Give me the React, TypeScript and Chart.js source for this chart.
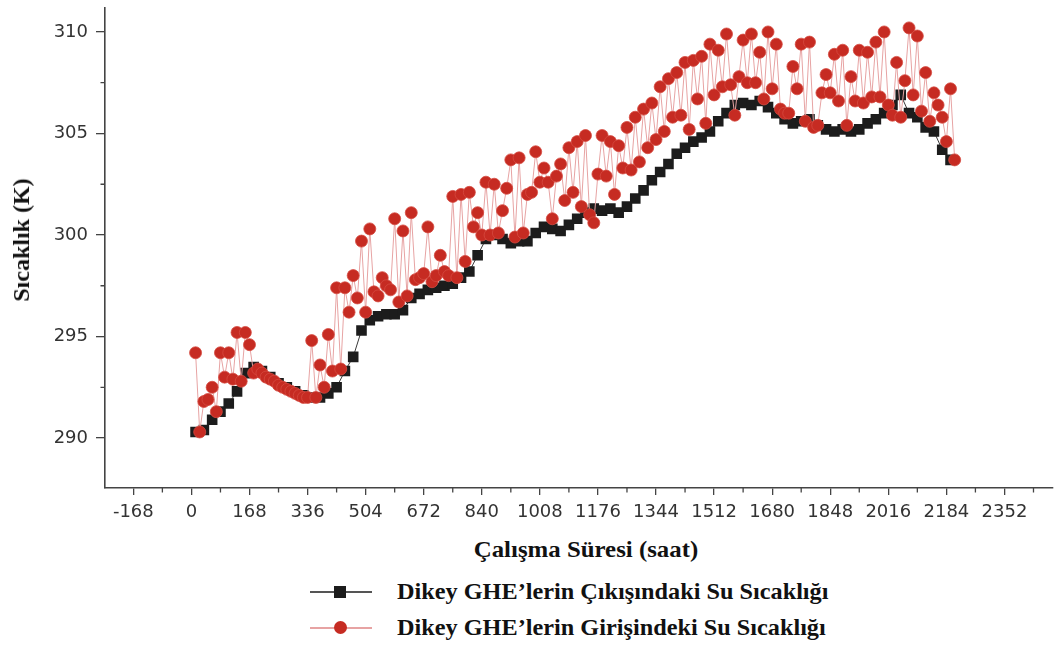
import React, { useEffect, useRef } from "react";
import { Chart, registerables } from "chart.js";

Chart.register(...registerables);

// Sampling grid (hours)
const START_HOUR = 12;
const INLET_STEP = 12;
const OUTLET_STEP = 24;

// Outlet water temperature (K) – black squares
const outletTemps = [
  290.3, 290.4, 290.9, 291.3, 291.7, 292.3, 293.2, 293.5, 293.3, 293.0,
  292.7, 292.5, 292.3, 292.1, 292.0, 292.0, 292.2, 292.5, 293.3, 294.0,
  295.3, 295.8, 296.0, 296.1, 296.1, 296.3, 296.9, 297.1, 297.3, 297.4,
  297.5, 297.6, 297.9, 298.2, 299.0, 299.8, 300.0, 299.8, 299.6, 299.7,
  299.7, 300.1, 300.4, 300.3, 300.2, 300.5, 300.8, 301.1, 301.3, 301.2,
  301.3, 301.1, 301.4, 301.8, 302.2, 302.7, 303.1, 303.5, 304.0, 304.3,
  304.6, 304.8, 305.1, 305.6, 306.0, 306.4, 306.5, 306.4, 306.6, 306.3,
  306.0, 305.7, 305.5, 305.6, 305.7, 305.4, 305.2, 305.1, 305.2, 305.1,
  305.2, 305.5, 305.7, 306.0, 306.4, 306.9, 306.0, 305.8, 305.3, 305.1,
  304.2, 303.7,
];

// Inlet water temperature (K) – red circles
const inletTemps = [
  294.2, 290.3, 291.8, 291.9, 292.5, 291.3, 294.2, 293.0, 294.2, 292.9,
  295.2, 292.8, 295.2, 294.6, 293.2, 293.4, 293.2, 293.0, 292.9, 292.8,
  292.6, 292.5, 292.4, 292.3, 292.2, 292.1, 292.0, 292.0, 294.8, 292.0,
  293.6, 292.5, 295.1, 293.3, 297.4, 293.4, 297.4, 296.2, 298.0, 296.9,
  299.7, 296.2, 300.3, 297.2, 297.0, 297.9, 297.5, 297.3, 300.8, 296.7,
  300.2, 297.0, 301.1, 297.8, 297.9, 298.1, 300.4, 297.7, 298.0, 299.0,
  298.2, 298.0, 301.9, 297.9, 302.0, 298.7, 302.1, 300.4, 301.1, 300.0,
  302.6, 300.0, 302.5, 300.1, 301.2, 302.3, 303.7, 299.9, 303.8, 300.1,
  302.0, 302.1, 304.1, 302.6, 303.3, 302.6, 300.8, 302.9, 303.5, 301.7,
  304.3, 302.1, 304.6, 301.4, 304.9, 301.0, 300.6, 303.0, 304.9, 302.9,
  304.6, 302.0, 304.4, 303.3, 305.3, 303.2, 305.8, 303.6, 306.2, 304.3,
  306.5, 304.7, 307.3, 305.1, 307.7, 305.8, 308.0, 305.9, 308.5, 305.2,
  308.6, 306.7, 308.8, 305.5, 309.4, 306.9, 309.1, 307.3, 309.9, 307.4,
  305.9, 307.8, 309.6, 307.5, 309.9, 307.5, 309.0, 306.7, 310.0, 307.2,
  309.4, 306.2, 306.0, 306.0, 308.3, 307.2, 309.4, 305.6, 309.5, 305.3,
  305.4, 307.0, 307.9, 307.0, 308.9, 306.6, 309.1, 305.4, 307.8, 306.6,
  309.1, 306.5, 309.0, 306.8, 309.5, 306.8, 310.0, 306.4, 305.9, 308.5,
  305.8, 307.6, 310.2, 306.9, 309.8, 306.1, 308.0, 305.6, 307.0, 306.4,
  305.8, 304.6, 307.2, 303.7,
];

const outletHours = outletTemps.map((_, i) => START_HOUR + OUTLET_STEP * i);
const inletHours = inletTemps.map((_, i) => START_HOUR + INLET_STEP * i);

const xTickValues = [-168, 0, 168, 336, 504, 672, 840, 1008, 1176, 1344, 1512, 1680, 1848, 2016, 2184, 2352];
const yTickValues = [290, 295, 300, 305, 310];

const X_MIN = -250;
const X_MAX = 2491;
const Y_MIN = 287.54;
const Y_MAX = 311.18;

const xTitle = "Çalışma Süresi (saat)";
const yTitle = "Sıcaklık (K)";
const outletLabel = "Dikey GHE’lerin Çıkışındaki Su Sıcaklığı";
const inletLabel = "Dikey GHE’lerin Girişindeki Su Sıcaklığı";

const AXIS_COLOR = "#444";
const TICK_FONT = { family: "'DejaVu Sans', sans-serif", size: 18 };
const SERIF = "'Liberation Serif', 'Times New Roman', serif";

function midpoints(vals: number[]): number[] {
  const out: number[] = [];
  const step = vals[1] - vals[0];
  out.push(vals[0] - step / 2);
  for (let i = 0; i < vals.length; i++) out.push(vals[i] + step / 2);
  return out;
}

const minorTicksPlugin = {
  id: "minorTicks",
  afterDraw(chart: any) {
    const ctx = chart.ctx;
    const xs = chart.scales.x;
    const ys = chart.scales.y;
    ctx.save();
    ctx.strokeStyle = AXIS_COLOR;
    ctx.lineWidth = 1.3;
    ctx.beginPath();
    midpoints(xTickValues)
      .filter((v) => v > X_MIN && v < X_MAX)
      .forEach((v) => {
        const px = xs.getPixelForValue(v);
        ctx.moveTo(px, xs.top);
        ctx.lineTo(px, xs.top + 4.5);
      });
    midpoints(yTickValues)
      .filter((v) => v > Y_MIN + 0.1 && v < Y_MAX)
      .forEach((v) => {
        const py = ys.getPixelForValue(v);
        ctx.moveTo(ys.right - 4.5, py);
        ctx.lineTo(ys.right, py);
      });
    ctx.stroke();
    ctx.restore();
  },
};

export default function App() {
  const canvasRef = useRef<HTMLCanvasElement | null>(null);

  useEffect(() => {
    if (!canvasRef.current) return;
    const chart = new Chart(canvasRef.current, {
      type: "line",
      data: {
        datasets: [
          {
            label: outletLabel,
            data: outletHours.map((h, i) => ({ x: h, y: outletTemps[i] })),
            borderColor: "#3a3a3a",
            borderWidth: 1,
            pointStyle: "rect",
            pointRadius: 7.5,
            pointBackgroundColor: "#1c1c1c",
            pointBorderColor: "#1c1c1c",
            pointBorderWidth: 0,
            order: 2,
          },
          {
            label: inletLabel,
            data: inletHours.map((h, i) => ({ x: h, y: inletTemps[i] })),
            borderColor: "#e7a3a3",
            borderWidth: 1,
            pointStyle: "circle",
            pointRadius: 6,
            pointBackgroundColor: "#c62b22",
            pointBorderColor: "#d54a40",
            pointBorderWidth: 0.8,
            order: 1,
          },
        ],
      },
      options: {
        responsive: false,
        animation: false,
        layout: { padding: { left: 0, right: 2, top: 8, bottom: 0 } },
        plugins: {
          legend: { display: false },
          tooltip: { enabled: false },
        },
        scales: {
          x: {
            type: "linear",
            min: X_MIN,
            max: X_MAX,
            afterBuildTicks: (scale: any) => {
              scale.ticks = xTickValues.map((v) => ({ value: v }));
            },
            afterFit: (scale: any) => {
              scale.height = 42;
              scale.paddingLeft = 0;
              scale.paddingRight = 0;
            },
            ticks: {
              autoSkip: false,
              maxRotation: 0,
              minRotation: 0,
              padding: 7,
              color: "#333",
              font: TICK_FONT,
              callback: (v: any) => String(v),
            },
            grid: {
              display: true,
              drawOnChartArea: false,
              drawTicks: true,
              tickLength: 7,
              color: AXIS_COLOR,
              lineWidth: 1.3,
            },
            border: { display: true, color: AXIS_COLOR, width: 1.6 },
          },
          y: {
            type: "linear",
            min: Y_MIN,
            max: Y_MAX,
            afterBuildTicks: (scale: any) => {
              scale.ticks = yTickValues.map((v) => ({ value: v }));
            },
            afterFit: (scale: any) => {
              scale.width = 105;
              scale.paddingTop = 0;
              scale.paddingBottom = 0;
            },
            ticks: {
              padding: 8,
              color: "#333",
              font: TICK_FONT,
              callback: (v: any) => String(v),
            },
            grid: {
              display: true,
              drawOnChartArea: false,
              drawTicks: true,
              tickLength: 9,
              color: AXIS_COLOR,
              lineWidth: 1.3,
            },
            border: { display: true, color: AXIS_COLOR, width: 1.6 },
          },
        },
      },
      plugins: [minorTicksPlugin],
    } as any);
    return () => chart.destroy();
  }, []);

  const textStyle: React.CSSProperties = {
    position: "absolute",
    fontFamily: SERIF,
    fontWeight: "bold",
    fontSize: 23,
    color: "#111",
    whiteSpace: "nowrap",
    lineHeight: "26px",
    transformOrigin: "left center",
    transform: "scaleX(1.055)",
  };

  return (
    <div style={{ position: "absolute", left: 0, top: 0, width: 1060, height: 646, background: "#fff", overflow: "hidden" }}>
      <canvas ref={canvasRef} width={1060} height={530} style={{ position: "absolute", left: 0, top: 0, width: 1060, height: 530 }} />

      {/* y axis title */}
      <div
        style={{
          ...textStyle,
          fontSize: 24,
          left: 21,
          top: 240,
          transformOrigin: "center center",
          transform: "translate(-50%, -50%) rotate(-90deg)",
        }}
      >
        {yTitle}
      </div>

      <div style={{ ...textStyle, left: 586, top: 537, transformOrigin: "center center", transform: "translateX(-50%) scaleX(1.08)" }}>{xTitle}</div>

      {/* legend row 1 */}
      <div style={{ position: "absolute", left: 310, top: 591, width: 62, height: 1.5, background: "#555" }} />
      <div style={{ position: "absolute", left: 334, top: 586, width: 12, height: 12, background: "#1c1c1c" }} />
      <div style={{ ...textStyle, left: 397, top: 579 }}>{outletLabel}</div>

      {/* legend row 2 */}
      <div style={{ position: "absolute", left: 310, top: 627, width: 62, height: 1.5, background: "#e7a3a3" }} />
      <div style={{ position: "absolute", left: 334, top: 621, width: 13, height: 13, borderRadius: "50%", background: "#c62b22" }} />
      <div style={{ ...textStyle, left: 397, top: 615 }}>{inletLabel}</div>
    </div>
  );
}
